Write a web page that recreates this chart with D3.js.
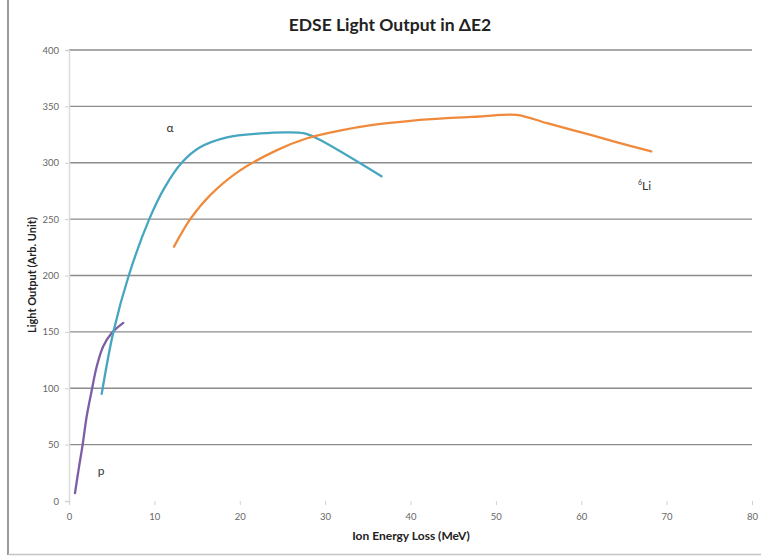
<!DOCTYPE html>
<html>
<head>
<meta charset="utf-8">
<script src="https://cdn.jsdelivr.net/npm/d3@7/dist/d3.min.js"></script>
<style>
  html, body { margin: 0; padding: 0; background: #fff; }
  svg { display: block; }
</style>
</head>
<body>
<svg id="chart" width="761" height="556"></svg>
<script>
// Axis ticks
const xTicks = [0, 10, 20, 30, 40, 50, 60, 70, 80];
const yTicks = [0, 50, 100, 150, 200, 250, 300, 350, 400];

// Proton (p) response: energy loss (MeV) vs light output
const protonE = [0.7, 1.17, 1.6, 2.07, 2.66, 3.24, 4.0, 5.0, 6.36];
const protonL = [7, 30, 50, 75, 98, 119, 137, 149, 158];

// Alpha response
const alphaE = [3.83, 5.2, 7.0, 9.4, 11.2, 13.2, 15.3, 18.5, 22.4, 25.5, 27.6, 29.2, 36.6];
const alphaL = [95, 150, 200, 250, 278, 300, 313.5, 322.5, 326, 327, 326, 321, 288];

// 6Li response
const liE = [12.3, 14.2, 16.5, 20, 24.3, 27.8, 31.7, 35.6, 40.3, 44.2, 48.1, 52.4, 56, 60, 64, 68.2];
const liL = [225.6, 250, 271, 293, 311, 321.5, 328.5, 333.6, 337.4, 339.5, 341, 342.5, 335.1, 326.9, 318.6, 310];

const svg = d3.select("#chart");

const x = d3.scaleLinear().domain([0, 80]).range([69, 752]);
const y = d3.scaleLinear().domain([0, 400]).range([501, 50]);

// Outer chart frame (left and bottom edges visible)
svg.append("line").attr("x1", 8).attr("x2", 8).attr("y1", 0).attr("y2", 555)
  .attr("stroke", "#9a9a9a").attr("stroke-width", 2);
svg.append("line").attr("x1", 8).attr("x2", 761).attr("y1", 554.5).attr("y2", 554.5)
  .attr("stroke", "#c4c4c4").attr("stroke-width", 1.5);

// Horizontal gridlines
svg.append("g").selectAll("line")
  .data(yTicks.filter(d => d > 0))
  .join("line")
  .attr("x1", x(0)).attr("x2", x(80))
  .attr("y1", d => y(d)).attr("y2", d => y(d))
  .attr("stroke", "#8c8c8c").attr("stroke-width", 1.3);

// Y axis
const yAxis = svg.append("g")
  .attr("transform", `translate(${x(0)},0)`)
  .call(d3.axisLeft(y).tickValues(yTicks).tickSize(4).tickPadding(6));
yAxis.select(".domain").attr("stroke", "#dcdcdc").attr("stroke-width", 1.5);
yAxis.selectAll(".tick line").attr("stroke", "#d0d0d0");
yAxis.selectAll("text").attr("fill", "#666").style("font", "9.5px Lato, 'Open Sans', sans-serif");

// X axis
const xAxis = svg.append("g")
  .attr("transform", `translate(0,${y(0)})`)
  .call(d3.axisBottom(x).tickValues(xTicks).tickSize(4).tickPadding(8));
xAxis.select(".domain").remove();
xAxis.selectAll(".tick line").attr("stroke", "#d0d0d0");
xAxis.selectAll("text").attr("fill", "#666").style("font", "9.5px Lato, 'Open Sans', sans-serif");

// Response curves
const line = d3.line()
  .x(d => x(d[0])).y(d => y(d[1]))
  .curve(d3.curveCatmullRom.alpha(0.5));

const series = [
  { e: protonE, l: protonL, color: "#7d5ea6" },
  { e: alphaE, l: alphaL, color: "#46a6c0" },
  { e: liE, l: liL, color: "#ef8a3c" }
];

svg.append("g").selectAll("path")
  .data(series)
  .join("path")
  .attr("d", s => line(s.e.map((v, i) => [v, s.l[i]])))
  .attr("fill", "none")
  .attr("stroke", s => s.color)
  .attr("stroke-width", 2.3)
  .attr("stroke-linecap", "round");

// Series labels
const labelFont = "12px Lato, 'Open Sans', sans-serif";
svg.append("text").attr("x", 170).attr("y", 132).attr("text-anchor", "middle")
  .attr("fill", "#333").style("font", labelFont).text("α");
svg.append("text").attr("x", 101).attr("y", 475).attr("text-anchor", "middle")
  .attr("fill", "#333").style("font", labelFont).text("p");
const li = svg.append("text").attr("x", 638).attr("y", 190)
  .attr("fill", "#333").style("font", labelFont);
li.append("tspan").attr("dy", -5).style("font-size", "7px").text("6");
li.append("tspan").attr("dy", 5).text("Li");

// Title and axis titles
svg.append("text").attr("x", 390).attr("y", 31).attr("text-anchor", "middle")
  .attr("fill", "#222").style("font", "bold 17.5px Lato, 'Open Sans', sans-serif")
  .text("EDSE Light Output in ΔE2");

svg.append("text").attr("x", 411).attr("y", 540).attr("text-anchor", "middle")
  .attr("fill", "#222").style("font", "bold 12px Lato, 'Open Sans', sans-serif")
  .text("Ion Energy Loss (MeV)");

svg.append("text")
  .attr("transform", "translate(36,275) rotate(-90)")
  .attr("text-anchor", "middle")
  .attr("fill", "#222").style("font", "bold 11px Lato, 'Open Sans', sans-serif")
  .text("Light Output (Arb. Unit)");
</script>
</body>
</html>
